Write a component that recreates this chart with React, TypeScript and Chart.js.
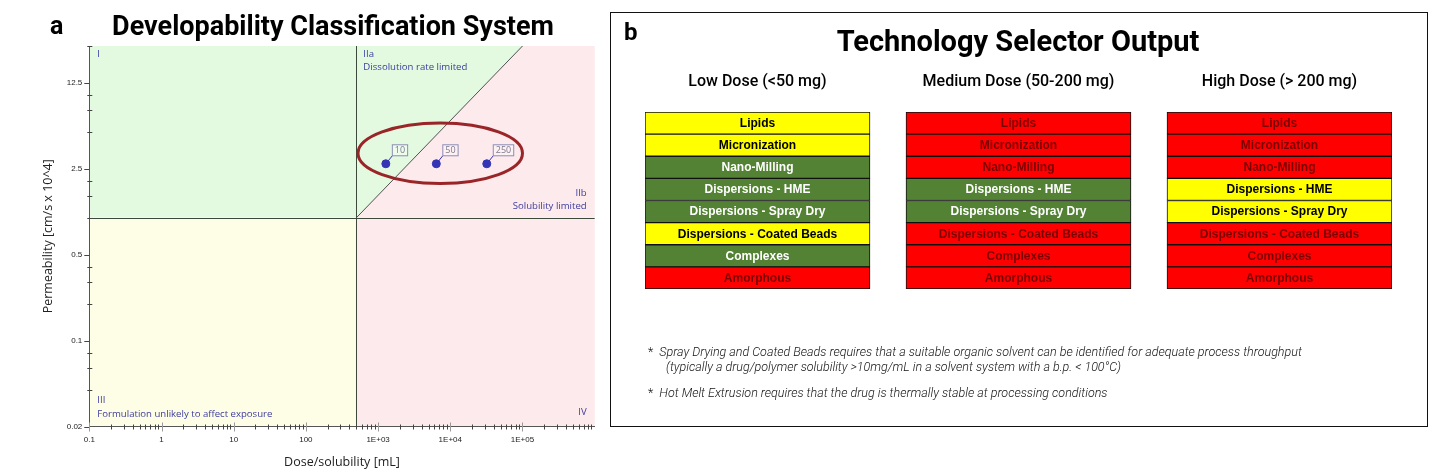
import React, { useEffect, useRef } from 'react';
import { Chart, registerables } from 'chart.js';

Chart.register(...registerables);

// ---------- Panel a data ----------
const xTickValues = [0.1, 1, 10, 100, 1000, 10000, 100000];
const xTickLabels = ['0.1', '1', '10', '100', '1E+03', '1E+04', '1E+05'];
const yTickValues = [0.02, 0.1, 0.5, 2.5, 12.5];
const yTickLabels = ['0.02', '0.1', '0.5', '2.5', '12.5'];
const xRange = [0.1, 1e6];
const yRange = [0.02, 25];
const doseLabels = ['10', '50', '250'];
const doseSolubility = [1280, 6400, 32000];
const permeability = [2.75, 2.75, 2.75];
const solubilityBoundary = 500;
const permeabilityBoundary = 1;
const dissolutionLineX = [500, 100000];
const dissolutionLineY = [1, 25];
const ellipseX = [527, 100000];
const ellipseY = [1.9, 5.9];
const quadrantLabels = {
  I: ['I'],
  IIa: ['IIa', 'Dissolution rate limited'],
  IIb: ['IIb', 'Solubility limited'],
  III: ['III', 'Formulation unlikely to affect exposure'],
  IV: ['IV'],
};

// ---------- Panel b data ----------
const technologies = [
  'Lipids',
  'Micronization',
  'Nano-Milling',
  'Dispersions - HME',
  'Dispersions - Spray Dry',
  'Dispersions - Coated Beads',
  'Complexes',
  'Amorphous',
];
const doseGroups = ['Low Dose (<50 mg)', 'Medium Dose (50-200 mg)', 'High Dose (> 200 mg)'];
const lowDoseRating = ['Y', 'Y', 'G', 'G', 'G', 'Y', 'G', 'R'];
const mediumDoseRating = ['R', 'R', 'R', 'G', 'G', 'R', 'R', 'R'];
const highDoseRating = ['R', 'R', 'R', 'Y', 'Y', 'R', 'R', 'R'];
const ratingColors: Record<string, string> = { Y: '#ffff00', G: '#548235', R: '#ff0000' };
const ratingTextColors: Record<string, string> = { Y: '#000000', G: '#ffffff', R: '#7a0000' };
const cellWidth = 0.862;

const QUAD_FONT = '9.6px "Open Sans"';
const QUAD_COLOR = '#3d3d9e';

function DcsChart() {
  const ref = useRef<HTMLCanvasElement>(null);
  useEffect(() => {
    const xMinor = xTickValues
      .flatMap((d) => [2, 3, 4, 5, 6, 7, 8, 9].map((m) => d * m))
      .filter((v) => v < xRange[1]);
    const yMinor = [...yTickValues, yTickValues[yTickValues.length - 1] * 5]
      .flatMap((v) => [0.8, 0.6, 0.4].map((f) => v * f))
      .filter((v) => v > yRange[0] * 1.0001 && v <= yRange[1] * 1.0001);

    const quadrants = {
      id: 'quadrants',
      beforeDraw(chart: any) {
        const { ctx, chartArea: a, scales } = chart;
        const xs = scales.x;
        const ys = scales.y;
        const px = xs.getPixelForValue(solubilityBoundary);
        const py = ys.getPixelForValue(permeabilityBoundary);
        const lx0 = xs.getPixelForValue(dissolutionLineX[0]);
        const ly0 = ys.getPixelForValue(dissolutionLineY[0]);
        const lx1 = xs.getPixelForValue(dissolutionLineX[1]);
        const ly1 = ys.getPixelForValue(dissolutionLineY[1]);
        ctx.save();
        ctx.fillStyle = '#e3fae1';
        ctx.fillRect(a.left, a.top, px - a.left, py - a.top);
        ctx.fillStyle = '#fefee6';
        ctx.fillRect(a.left, py, px - a.left, a.bottom - py);
        ctx.fillStyle = '#fdeaed';
        ctx.fillRect(px, py, a.right - px, a.bottom - py);
        ctx.fillRect(px, a.top, a.right - px, py - a.top);
        ctx.fillStyle = '#e3fae1';
        ctx.beginPath();
        ctx.moveTo(lx0, ly0);
        ctx.lineTo(lx1, ly1);
        ctx.lineTo(px, a.top);
        ctx.lineTo(px, py);
        ctx.closePath();
        ctx.fill();
        ctx.strokeStyle = '#3c4a3c';
        ctx.lineWidth = 1;
        ctx.beginPath();
        ctx.moveTo(Math.round(px) + 0.5, a.top);
        ctx.lineTo(Math.round(px) + 0.5, a.bottom);
        ctx.moveTo(a.left, Math.round(py) + 0.5);
        ctx.lineTo(a.right, Math.round(py) + 0.5);
        ctx.stroke();
        ctx.restore();
      },
      afterDatasetsDraw(chart: any) {
        const { ctx, chartArea: a, scales } = chart;
        const xs = scales.x;
        const ys = scales.y;
        const px = xs.getPixelForValue(solubilityBoundary);
        const py = ys.getPixelForValue(permeabilityBoundary);
        ctx.save();
        // quadrant labels
        ctx.font = QUAD_FONT;
        ctx.fillStyle = QUAD_COLOR;
        ctx.textBaseline = 'middle';
        ctx.textAlign = 'left';
        ctx.fillText(quadrantLabels.I[0], a.left + 8, a.top + 8);
        ctx.fillText(quadrantLabels.IIa[0], px + 7, a.top + 8);
        ctx.fillText(quadrantLabels.IIa[1], px + 7, a.top + 21);
        ctx.fillText(quadrantLabels.III[0], a.left + 8, a.bottom - 26);
        ctx.fillText(quadrantLabels.III[1], a.left + 8, a.bottom - 12);
        ctx.textAlign = 'right';
        ctx.fillText(quadrantLabels.IIb[0], a.right - 8, py - 24);
        ctx.fillText(quadrantLabels.IIb[1], a.right - 8, py - 11.5);
        ctx.fillText(quadrantLabels.IV[0], a.right - 8, a.bottom - 14);

        // point labels
        const meta = chart.getDatasetMeta(1);
        ctx.font = '9px "Open Sans"';
        ctx.textAlign = 'center';
        meta.data.forEach((el: any, i: number) => {
          const { x, y } = el.getProps(['x', 'y'], true);
          const t = doseLabels[i];
          const w = ctx.measureText(t).width + 5;
          const h = 11;
          const bx = x + 6.5;
          const by = y - 8;
          ctx.strokeStyle = '#3434b4';
          ctx.lineWidth = 1;
          ctx.beginPath();
          ctx.moveTo(x, y);
          ctx.lineTo(bx, by);
          ctx.stroke();
          ctx.fillStyle = 'rgba(255,255,255,0.35)';
          ctx.fillRect(bx, by - h, w, h);
          ctx.strokeStyle = '#8d8db5';
          ctx.strokeRect(bx, by - h, w, h);
          ctx.fillStyle = '#7a7a8e';
          ctx.textBaseline = 'middle';
          ctx.fillText(t, bx + w / 2, by - h / 2 + 0.5);
        });

        // ellipse
        const ex0 = xs.getPixelForValue(ellipseX[0]);
        const ex1 = xs.getPixelForValue(ellipseX[1]);
        const ey0 = ys.getPixelForValue(ellipseY[0]);
        const ey1 = ys.getPixelForValue(ellipseY[1]);
        ctx.strokeStyle = '#9a2528';
        ctx.lineWidth = 3;
        ctx.beginPath();
        ctx.ellipse((ex0 + ex1) / 2, (ey0 + ey1) / 2, Math.abs(ex1 - ex0) / 2, Math.abs(ey1 - ey0) / 2, 0, 0, Math.PI * 2);
        ctx.stroke();
        ctx.restore();
      },
      afterDraw(chart: any) {
        const { ctx, chartArea: a, scales } = chart;
        const xs = scales.x;
        const ys = scales.y;
        ctx.save();
        ctx.lineWidth = 1;
        const ay = a.bottom;
        const ax = a.left;
        ctx.strokeStyle = '#444';
        ctx.beginPath();
        xMinor.forEach((v) => {
          const p = Math.round(xs.getPixelForValue(v)) + 0.5;
          ctx.moveTo(p, ay - 2);
          ctx.lineTo(p, ay + 3);
        });
        yMinor.forEach((v) => {
          const p = Math.round(ys.getPixelForValue(v)) + 0.5;
          ctx.moveTo(ax - 2, p);
          ctx.lineTo(ax + 3, p);
        });
        yTickValues.forEach((v) => {
          const p = Math.round(ys.getPixelForValue(v)) + 0.5;
          ctx.moveTo(ax - 5, p);
          ctx.lineTo(ax, p);
        });
        ctx.stroke();
        ctx.strokeStyle = '#9a9a9a';
        ctx.beginPath();
        xTickValues.forEach((v) => {
          const p = Math.round(xs.getPixelForValue(v)) + 0.5;
          ctx.moveTo(p, ay - 4);
          ctx.lineTo(p, ay + 5);
        });
        ctx.stroke();
        ctx.restore();
      },
    };

    const chart = new Chart(ref.current as HTMLCanvasElement, {
      type: 'scatter',
      data: {
        datasets: [
          {
            label: 'dissolution',
            data: dissolutionLineX.map((x, i) => ({ x, y: dissolutionLineY[i] })),
            showLine: true,
            borderColor: '#505050',
            borderWidth: 1,
            pointRadius: 0,
          },
          {
            label: 'dose',
            data: doseSolubility.map((x, i) => ({ x, y: permeability[i] })),
            backgroundColor: '#3434b4',
            borderColor: '#3434b4',
            pointRadius: 4,
          },
        ],
      },
      options: {
        animation: false,
        responsive: false,
        layout: { padding: { top: 46, right: 10.3, left: 0, bottom: 0 } },
        plugins: { legend: { display: false }, tooltip: { enabled: false } },
        scales: {
          x: {
            type: 'logarithmic',
            min: xRange[0],
            max: xRange[1],
            grid: { display: false, drawTicks: false },
            border: { display: true, color: '#555', width: 1 },
            afterBuildTicks: (s: any) => {
              s.ticks = xTickValues.map((value) => ({ value }));
            },
            afterFit: (s: any) => {
              s.height = 49.5;
            },
            ticks: {
              autoSkip: false,
              maxRotation: 0,
              padding: 8.5,
              color: '#222',
              font: { family: '"Liberation Sans"', size: 8 },
              callback: (_v: any, i: number) => xTickLabels[i],
            },
            title: {
              display: true,
              text: 'Dose/solubility [mL]',
              color: '#222',
              font: { family: '"Open Sans"', size: 12.5 },
              padding: { top: 0, bottom: 6.5 },
            },
          },
          y: {
            type: 'logarithmic',
            min: yRange[0],
            max: yRange[1],
            grid: { display: false, drawTicks: false },
            border: { display: true, color: '#555', width: 1 },
            afterBuildTicks: (s: any) => {
              s.ticks = yTickValues.map((value) => ({ value }));
            },
            afterFit: (s: any) => {
              s.width = 89.3;
            },
            ticks: {
              autoSkip: false,
              padding: 7,
              color: '#222',
              font: { family: '"Liberation Sans"', size: 8 },
              callback: (_v: any, i: number) => yTickLabels[i],
            },
            title: {
              display: true,
              text: 'Permeability [cm/s x 10^4]',
              color: '#222',
              font: { family: '"Open Sans"', size: 12.5 },
              padding: { top: 40.5, bottom: 0 },
            },
          },
        },
      },
      plugins: [quadrants],
    } as any);
    return () => chart.destroy();
  }, []);
  return (
    <canvas
      ref={ref}
      width={605}
      height={476}
      style={{ position: 'absolute', left: 0, top: 0, width: 605, height: 476 }}
    />
  );
}

function SelectorChart() {
  const ref = useRef<HTMLCanvasElement>(null);
  useEffect(() => {
    const ratings = [lowDoseRating, mediumDoseRating, highDoseRating];
    const cellText = {
      id: 'cellText',
      afterDatasetsDraw(chart: any) {
        const { ctx } = chart;
        ctx.save();
        ctx.font = 'bold 12px "Liberation Sans"';
        ctx.textAlign = 'center';
        ctx.textBaseline = 'middle';
        chart.data.datasets.forEach((_ds: any, di: number) => {
          const meta = chart.getDatasetMeta(di);
          meta.data.forEach((el: any, i: number) => {
            const { x, y, base } = el.getProps(['x', 'y', 'base'], true);
            ctx.fillStyle = ratingTextColors[ratings[di][i]];
            ctx.fillText(technologies[i], (x + base) / 2, y + 0.5);
          });
        });
        ctx.restore();
      },
    };
    const chart = new Chart(ref.current as HTMLCanvasElement, {
      type: 'bar',
      data: {
        labels: technologies,
        datasets: ratings.map((r, c) => ({
          label: doseGroups[c],
          data: r.map(() => [c, c + cellWidth]),
          backgroundColor: r.map((k) => ratingColors[k]),
          borderColor: '#111',
          borderWidth: 1,
          borderSkipped: false,
          grouped: false,
          barPercentage: 1,
          categoryPercentage: 1,
        })),
      },
      options: {
        animation: false,
        responsive: false,
        indexAxis: 'y',
        layout: { padding: { left: 35, right: 36, top: 0, bottom: 138 } },
        plugins: { legend: { display: false }, tooltip: { enabled: false } },
        scales: {
          x: {
            type: 'linear',
            position: 'top',
            min: 0,
            max: 2 + cellWidth,
            grid: { display: false, drawTicks: false },
            border: { display: false },
            afterBuildTicks: (s: any) => {
              s.ticks = doseGroups.map((_g, i) => ({ value: i + cellWidth / 2 }));
            },
            afterFit: (s: any) => {
              s.height = 100;
            },
            ticks: {
              autoSkip: false,
              maxRotation: 0,
              padding: 20.5,
              color: '#000',
              font: { family: 'Roboto', size: 16, weight: '500' },
              callback: (_v: any, i: number) => doseGroups[i],
            },
          },
          y: { display: false },
        },
      },
      plugins: [cellText],
    } as any);
    return () => chart.destroy();
  }, []);
  return (
    <canvas
      ref={ref}
      width={818}
      height={415}
      style={{ position: 'absolute', left: 610, top: 12, width: 818, height: 415 }}
    />
  );
}

const abs = (s: React.CSSProperties): React.CSSProperties => ({
  position: 'absolute',
  whiteSpace: 'nowrap',
  lineHeight: 1,
  margin: 0,
  ...s,
});

export default function App() {
  const noteFont: React.CSSProperties = {
    fontFamily: 'Roboto',
    fontStyle: 'italic',
    fontWeight: 300,
    fontSize: 12.5,
    color: '#111',
  };
  return (
    <div
      style={{
        position: 'fixed',
        left: 0,
        top: 0,
        width: 1430,
        height: 476,
        background: '#fff',
        overflow: 'hidden',
      }}
    >
      <DcsChart />
      <div style={abs({ left: 50, top: 13, fontFamily: 'Roboto', fontWeight: 700, fontSize: 25 })}>a</div>
      <div
        style={abs({
          left: 33,
          top: 13,
          width: 600,
          textAlign: 'center',
          fontFamily: 'Roboto',
          fontWeight: 700,
          fontSize: 27,
        })}
      >
        Developability Classification System
      </div>

      <div
        style={{
          position: 'absolute',
          left: 610,
          top: 12,
          width: 818,
          height: 415,
          border: '1.5px solid #111',
          boxSizing: 'border-box',
        }}
      />
      <SelectorChart />
      <div style={abs({ left: 624, top: 20, fontFamily: 'Roboto', fontWeight: 700, fontSize: 24 })}>b</div>
      <div
        style={abs({
          left: 718,
          top: 27,
          width: 600,
          textAlign: 'center',
          fontFamily: 'Roboto',
          fontWeight: 700,
          fontSize: 29,
        })}
      >
        Technology Selector Output
      </div>
      <div style={abs({ left: 648, top: 346, ...noteFont })}>
        <span style={{ fontStyle: 'normal' }}>*</span>&nbsp;&nbsp;Spray Drying and Coated Beads requires that a suitable
        organic solvent can be identified for adequate process throughput
      </div>
      <div style={abs({ left: 666, top: 361, ...noteFont })}>
        (typically a drug/polymer solubility &gt;10mg/mL in a solvent system with a b.p. &lt; 100°C)
      </div>
      <div style={abs({ left: 648, top: 387, ...noteFont })}>
        <span style={{ fontStyle: 'normal' }}>*</span>&nbsp;&nbsp;Hot Melt Extrusion requires that the drug is thermally
        stable at processing conditions
      </div>
    </div>
  );
}
